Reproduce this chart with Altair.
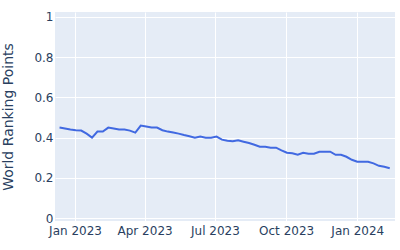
import altair as alt
import pandas as pd

# Weekly release dates (Mondays) from 12 Dec 2022 to 12 Feb 2024
dates = pd.date_range("2022-12-12", periods=62, freq="7D").strftime("%Y-%m-%dT00:00:00").tolist()

points = [
    0.450, 0.445, 0.440, 0.437, 0.435, 0.420, 0.400, 0.430, 0.430, 0.450,
    0.445, 0.440, 0.440, 0.435, 0.425, 0.460, 0.455, 0.450, 0.450, 0.437,
    0.430, 0.425, 0.420, 0.413, 0.407, 0.400, 0.405, 0.400, 0.400, 0.405,
    0.390, 0.385, 0.382, 0.387, 0.380, 0.373, 0.365, 0.355, 0.355, 0.350,
    0.350, 0.337, 0.325, 0.322, 0.315, 0.325, 0.320, 0.320, 0.330, 0.330,
    0.330, 0.315, 0.315, 0.305, 0.290, 0.280, 0.280, 0.280, 0.272, 0.260,
    0.255, 0.248,
]

y_ticks = [0, 0.2, 0.4, 0.6, 0.8, 1]
x_ticks = [
    alt.DateTime(year=2023, month=1, date=1),
    alt.DateTime(year=2023, month=4, date=1),
    alt.DateTime(year=2023, month=7, date=1),
    alt.DateTime(year=2023, month=10, date=1),
    alt.DateTime(year=2024, month=1, date=1),
]

df = pd.DataFrame({"date": dates, "points": points})

FONT = "DejaVu Sans"
TXT = "#2a3f5f"

chart = (
    alt.Chart(df)
    .mark_line(color="#4169E1", strokeWidth=2, clip=True)
    .encode(
        x=alt.X(
            "date:T",
            scale=alt.Scale(
                domain=[
                    alt.DateTime(year=2022, month=12, date=6, hours=3),
                    alt.DateTime(year=2024, month=2, date=18, hours=19),
                ]
            ),
            axis=alt.Axis(
                values=x_ticks,
                format="%b %Y",
                title=None,
                labelPadding=4,
                labelFlush=False,
                labelOverlap=False,
            ),
        ),
        y=alt.Y(
            "points:Q",
            scale=alt.Scale(domain=[-0.014, 1.024], nice=False, zero=False),
            axis=alt.Axis(
                values=y_ticks,
                format="~g",
                title="World Ranking Points",
                titleX=-40,
                titleBaseline="bottom",
                titleFontSize=14,
                titleFontWeight="normal",
                labelPadding=2,
            ),
        ),
    )
    .properties(
        width=340,
        height=209,
        padding={"left": 55, "top": 12, "right": 5, "bottom": 29},
        autosize="none",
        background="white",
    )
    .configure_view(fill="#E5ECF6", stroke=None)
    .configure_axis(
        grid=True,
        gridColor="white",
        gridWidth=1,
        domain=False,
        ticks=False,
        tickSize=0,
        labelFont=FONT,
        labelFontSize=12,
        labelColor=TXT,
        titleFont=FONT,
        titleColor=TXT,
    )
)

chart.save("out.html", embed_options={"renderer": "svg", "actions": False})
